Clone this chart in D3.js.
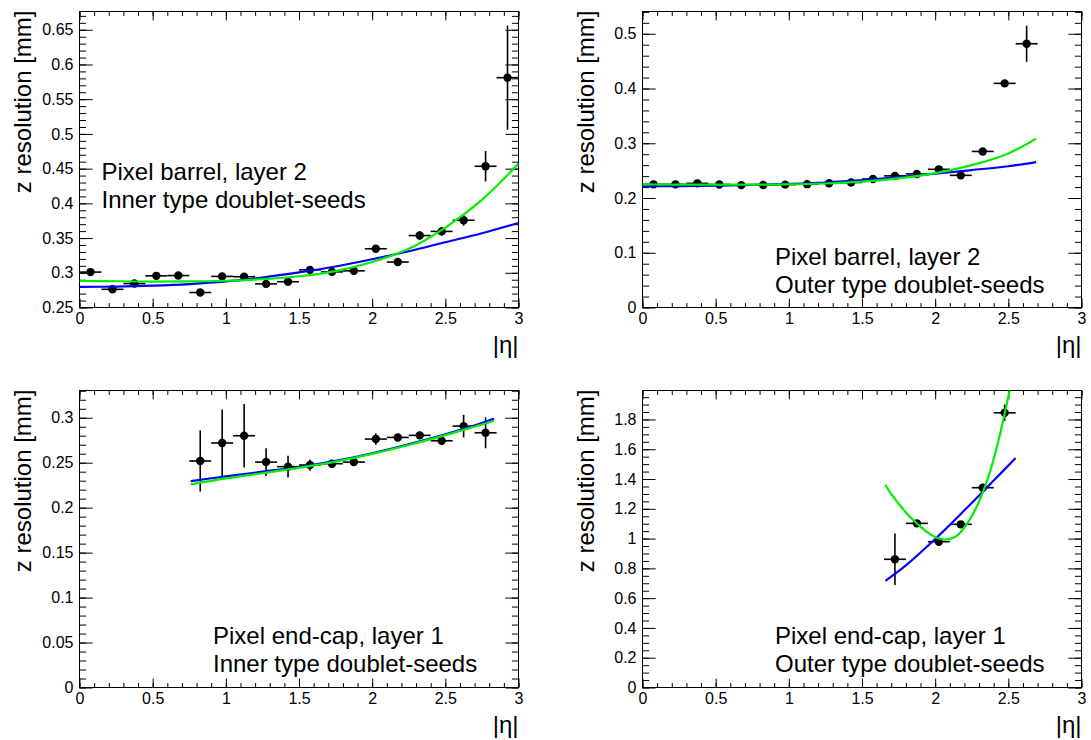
<!DOCTYPE html>
<html>
<head>
<meta charset="utf-8">
<script src="https://cdn.jsdelivr.net/npm/d3@7"></script>
<style>
  body { margin: 0; background: #fff; }
  svg { display: block; }
</style>
</head>
<body>
<svg id="chart" width="1091" height="740"></svg>
<script>
// ---------- data: z resolution vs |eta| ----------
const etaTicks = [0, 0.5, 1, 1.5, 2, 2.5, 3];
const binHalfWidth = 0.075;

// Pixel barrel, layer 2 - inner type doublet-seeds
const barrelInnerEta = [0.075, 0.225, 0.375, 0.525, 0.675, 0.825, 0.975, 1.125, 1.275, 1.425,
                        1.575, 1.725, 1.875, 2.025, 2.175, 2.325, 2.475, 2.625, 2.775, 2.925];
const barrelInnerRes = [0.301, 0.2762, 0.2845, 0.2956, 0.296, 0.2716, 0.2948, 0.2943, 0.284, 0.2871,
                        0.3042, 0.3013, 0.3028, 0.3346, 0.3155, 0.3536, 0.3596, 0.3757, 0.4534, 0.581];
const barrelInnerErr = [0.004, 0.003, 0.003, 0.003, 0.003, 0.003, 0.003, 0.003, 0.003, 0.003,
                        0.004, 0.004, 0.004, 0.005, 0.004, 0.006, 0.006, 0.008, 0.022, 0.075];
const barrelInnerFitEta   = [0, 0.25, 0.5, 0.75, 1, 1.25, 1.5, 1.75, 2, 2.25, 2.5, 2.75, 3];
const barrelInnerFitBlue  = [0.2797, 0.2801, 0.2815, 0.2838, 0.2875, 0.2932, 0.3005, 0.309, 0.3195, 0.331, 0.344, 0.357, 0.3717];
const barrelInnerFitGreen = [0.2882, 0.2878, 0.2874, 0.2875, 0.2885, 0.2908, 0.295, 0.3025, 0.3155, 0.3345, 0.365, 0.405, 0.4572];
const barrelInnerTicks = [0.25, 0.3, 0.35, 0.4, 0.45, 0.5, 0.55, 0.6, 0.65];

// Pixel barrel, layer 2 - outer type doublet-seeds
const barrelOuterEta = [0.075, 0.225, 0.375, 0.525, 0.675, 0.825, 0.975, 1.125, 1.275, 1.425,
                        1.575, 1.725, 1.875, 2.025, 2.175, 2.325, 2.475, 2.625];
const barrelOuterRes = [0.225, 0.225, 0.2268, 0.2247, 0.2235, 0.2238, 0.2244, 0.2253, 0.227, 0.2283,
                        0.2347, 0.2404, 0.244, 0.2524, 0.2414, 0.2851, 0.4094, 0.4818];
const barrelOuterErr = [0.002, 0.002, 0.002, 0.002, 0.002, 0.002, 0.002, 0.002, 0.002, 0.002,
                        0.003, 0.003, 0.003, 0.003, 0.003, 0.004, 0.006, 0.033];
const barrelOuterFitBlueEta  = [0, 0.25, 0.5, 0.75, 1, 1.25, 1.5, 1.75, 2, 2.25, 2.5, 2.69];
const barrelOuterFitBlue     = [0.2212, 0.2217, 0.2226, 0.224, 0.2258, 0.2283, 0.2325, 0.238, 0.2443, 0.251, 0.258, 0.2655];
const barrelOuterFitGreenEta = [0, 0.25, 0.5, 0.75, 1, 1.25, 1.5, 1.75, 2, 2.25, 2.5, 2.69];
const barrelOuterFitGreen    = [0.2248, 0.2246, 0.2245, 0.2245, 0.2248, 0.2265, 0.23, 0.236, 0.2455, 0.26, 0.2815, 0.3085];
const barrelOuterTicks = [0, 0.1, 0.2, 0.3, 0.4, 0.5];

// Pixel end-cap, layer 1 - inner type doublet-seeds
const endcapInnerEta = [0.825, 0.975, 1.125, 1.275, 1.425, 1.575, 1.725, 1.875, 2.025, 2.175, 2.325, 2.475, 2.625, 2.775];
const endcapInnerRes = [0.2519, 0.2719, 0.28, 0.2507, 0.2456, 0.2474, 0.2489, 0.2507, 0.2763, 0.2781, 0.2804, 0.2744, 0.2907, 0.2833];
const endcapInnerErr = [0.034, 0.0374, 0.0354, 0.0155, 0.012, 0.0063, 0.004, 0.003, 0.0063, 0.003, 0.004, 0.004, 0.0126, 0.0172];
const endcapInnerFitEta   = [0.76, 1, 1.25, 1.5, 1.75, 2, 2.25, 2.5, 2.75, 2.833];
const endcapInnerFitBlue  = [0.2296, 0.2348, 0.24, 0.2452, 0.252, 0.2605, 0.2705, 0.2815, 0.294, 0.299];
const endcapInnerFitGreen = [0.2259, 0.2325, 0.2383, 0.2442, 0.2512, 0.2598, 0.2697, 0.2807, 0.2925, 0.2967];
const endcapInnerTicks = [0, 0.05, 0.1, 0.15, 0.2, 0.25, 0.3];

// Pixel end-cap, layer 1 - outer type doublet-seeds
const endcapOuterEta = [1.725, 1.875, 2.025, 2.175, 2.325, 2.475];
const endcapOuterRes = [0.861, 1.1024, 0.979, 1.0957, 1.3417, 1.8448];
const endcapOuterErr = [0.173, 0.02, 0.015, 0.015, 0.02, 0.055];
const endcapOuterFitBlueEta  = [1.66, 1.8, 2.0, 2.2, 2.4, 2.55];
const endcapOuterFitBlue     = [0.716, 0.82, 0.997, 1.19, 1.39, 1.541];
const endcapOuterFitGreenEta = [1.66, 1.7, 1.75, 1.8, 1.85, 1.9, 1.95, 2.0, 2.05, 2.1, 2.15, 2.2, 2.25, 2.3, 2.35, 2.4, 2.45, 2.5, 2.52];
const endcapOuterFitGreen    = [1.362, 1.298, 1.236, 1.175, 1.125, 1.08, 1.04, 1.01, 0.995, 0.998, 1.02, 1.075, 1.15, 1.25, 1.375, 1.535, 1.73, 1.955, 2.06];
const endcapOuterTicks = [0, 0.2, 0.4, 0.6, 0.8, 1, 1.2, 1.4, 1.6, 1.8];

// ---------- layout ----------
const FONT = "'Liberation Sans', Arial, Helvetica, sans-serif";
const BLUE = "#0000ff";
const GREEN = "#00ee00";
const svg = d3.select("#chart");

const panels = [
  { id: "p1", x0: 79.5, x1: 518.5, y0: 11.5, y1: 307.5, yMin: 0.25, yMax: 0.6763, yMinorStep: 0.01,
    yTicks: barrelInnerTicks, eta: barrelInnerEta, res: barrelInnerRes, err: barrelInnerErr,
    fits: [{ eta: barrelInnerFitEta, val: barrelInnerFitBlue, color: BLUE },
           { eta: barrelInnerFitEta, val: barrelInnerFitGreen, color: GREEN }],
    labels: ["Pixel barrel, layer 2", "Inner type doublet-seeds"], labelX: 101.5, labelY: 179.5 },
  { id: "p2", x0: 642.5, x1: 1081.5, y0: 11.5, y1: 307.5, yMin: 0, yMax: 0.5407, yMinorStep: 0.02,
    yTicks: barrelOuterTicks, eta: barrelOuterEta, res: barrelOuterRes, err: barrelOuterErr,
    fits: [{ eta: barrelOuterFitBlueEta, val: barrelOuterFitBlue, color: BLUE },
           { eta: barrelOuterFitGreenEta, val: barrelOuterFitGreen, color: GREEN }],
    labels: ["Pixel barrel, layer 2", "Outer type doublet-seeds"], labelX: 775, labelY: 264.5 },
  { id: "p3", x0: 79.5, x1: 518.5, y0: 390.5, y1: 687.5, yMin: 0, yMax: 0.3303, yMinorStep: 0.01,
    yTicks: endcapInnerTicks, eta: endcapInnerEta, res: endcapInnerRes, err: endcapInnerErr,
    fits: [{ eta: endcapInnerFitEta, val: endcapInnerFitBlue, color: BLUE },
           { eta: endcapInnerFitEta, val: endcapInnerFitGreen, color: GREEN }],
    labels: ["Pixel end-cap, layer 1", "Inner type doublet-seeds"], labelX: 213, labelY: 644 },
  { id: "p4", x0: 642.5, x1: 1081.5, y0: 390.5, y1: 687.5, yMin: 0, yMax: 1.9945, yMinorStep: 0.05,
    yTicks: endcapOuterTicks, eta: endcapOuterEta, res: endcapOuterRes, err: endcapOuterErr,
    fits: [{ eta: endcapOuterFitBlueEta, val: endcapOuterFitBlue, color: BLUE },
           { eta: endcapOuterFitGreenEta, val: endcapOuterFitGreen, color: GREEN }],
    labels: ["Pixel end-cap, layer 1", "Outer type doublet-seeds"], labelX: 775, labelY: 644 }
];

const fmt = d3.format("~g");

function minorValues(lo, hi, step) {
  const n = Math.floor((hi - lo) / step + 1e-6);
  return d3.range(0, n + 1).map(i => +(lo + i * step).toFixed(6));
}

function styleAxis(g, size) {
  g.attr("font-family", FONT).attr("font-size", size);
  g.select(".domain").remove();
}

function drawPanel(p) {
  const x = d3.scaleLinear().domain([0, 3]).range([p.x0, p.x1]);
  const y = d3.scaleLinear().domain([p.yMin, p.yMax]).range([p.y1, p.y0]);
  const fw = p.x1 - p.x0, fh = p.y1 - p.y0;
  const xMaj = 0.03 * fh, xMin = xMaj / 2;
  const yMaj = 0.03 * fw, yMin = yMaj / 2;
  const etaMinor = minorValues(0, 3, 0.1);
  const yMinor = minorValues(Math.ceil(p.yMin / p.yMinorStep - 1e-6) * p.yMinorStep, p.yMax, p.yMinorStep);

  const g = svg.append("g").attr("id", p.id);

  // clip region for the fit curves
  svg.append("clipPath").attr("id", p.id + "-clip")
    .append("rect").attr("x", p.x0).attr("y", p.y0).attr("width", fw).attr("height", fh);

  // bottom axis (labels) and top axis (ticks only)
  g.append("g").attr("transform", `translate(0,${p.y1})`)
    .call(d3.axisBottom(x).tickValues(etaMinor).tickSize(-xMin).tickSizeOuter(0).tickFormat(""))
    .call(a => styleAxis(a, 16));
  g.append("g").attr("transform", `translate(0,${p.y1})`)
    .call(d3.axisBottom(x).tickValues(etaTicks).tickSize(-xMaj).tickSizeOuter(0).tickPadding(5).tickFormat(fmt))
    .call(a => styleAxis(a, 16));
  g.append("g").attr("transform", `translate(0,${p.y0})`)
    .call(d3.axisTop(x).tickValues(etaMinor).tickSize(-xMin).tickSizeOuter(0).tickFormat(""))
    .call(a => styleAxis(a, 16));
  g.append("g").attr("transform", `translate(0,${p.y0})`)
    .call(d3.axisTop(x).tickValues(etaTicks).tickSize(-xMaj).tickSizeOuter(0).tickFormat(""))
    .call(a => styleAxis(a, 16));

  // left axis (labels) and right axis (ticks only)
  g.append("g").attr("transform", `translate(${p.x0},0)`)
    .call(d3.axisLeft(y).tickValues(yMinor).tickSize(-yMin).tickSizeOuter(0).tickFormat(""))
    .call(a => styleAxis(a, 16));
  g.append("g").attr("transform", `translate(${p.x0},0)`)
    .call(d3.axisLeft(y).tickValues(p.yTicks).tickSize(-yMaj).tickSizeOuter(0).tickPadding(6).tickFormat(fmt))
    .call(a => styleAxis(a, 16));
  g.append("g").attr("transform", `translate(${p.x1},0)`)
    .call(d3.axisRight(y).tickValues(yMinor).tickSize(-yMin).tickSizeOuter(0).tickFormat(""))
    .call(a => styleAxis(a, 16));
  g.append("g").attr("transform", `translate(${p.x1},0)`)
    .call(d3.axisRight(y).tickValues(p.yTicks).tickSize(-yMaj).tickSizeOuter(0).tickFormat(""))
    .call(a => styleAxis(a, 16));

  // frame
  g.append("rect").attr("x", p.x0).attr("y", p.y0).attr("width", fw).attr("height", fh)
    .attr("fill", "none").attr("stroke", "#000").attr("stroke-width", 1);

  // axis titles
  g.append("text")
    .attr("transform", `translate(${p.x0 - 49},${p.y0 - 1}) rotate(-90)`)
    .attr("text-anchor", "end").attr("font-family", FONT).attr("font-size", 24)
    .text("z resolution [mm]");
  g.append("text")
    .attr("x", p.x1).attr("y", p.y1 + 45)
    .attr("text-anchor", "end").attr("font-family", FONT).attr("font-size", 24)
    .text("|η|");

  // data points with error bars
  const pts = p.eta.map((e, i) => ({ eta: e, res: p.res[i], err: p.err[i] }));
  const eg = g.append("g").attr("stroke", "#000").attr("stroke-width", 1.6);
  eg.selectAll("line.h").data(pts).join("line").attr("class", "h")
    .attr("x1", d => x(d.eta - binHalfWidth)).attr("x2", d => x(d.eta + binHalfWidth))
    .attr("y1", d => y(d.res)).attr("y2", d => y(d.res));
  eg.selectAll("line.v").data(pts).join("line").attr("class", "v")
    .attr("x1", d => x(d.eta)).attr("x2", d => x(d.eta))
    .attr("y1", d => y(d.res - d.err)).attr("y2", d => y(d.res + d.err));
  g.append("g").selectAll("circle").data(pts).join("circle")
    .attr("cx", d => x(d.eta)).attr("cy", d => y(d.res)).attr("r", 4.2).attr("fill", "#000");

  // fit curves
  const line = d3.line().x(d => x(d[0])).y(d => y(d[1])).curve(d3.curveCatmullRom.alpha(0.5));
  const fg = g.append("g").attr("clip-path", `url(#${p.id}-clip)`);
  p.fits.forEach(f => {
    fg.append("path")
      .datum(f.eta.map((e, i) => [e, f.val[i]]))
      .attr("d", line).attr("fill", "none")
      .attr("stroke", f.color).attr("stroke-width", 2.2);
  });

  // annotation
  const t = g.append("text").attr("font-family", FONT).attr("font-size", 24);
  p.labels.forEach((s, i) => {
    t.append("tspan").attr("x", p.labelX).attr("y", p.labelY + i * 28).text(s);
  });
}

panels.forEach(drawPanel);
</script>
</body>
</html>
